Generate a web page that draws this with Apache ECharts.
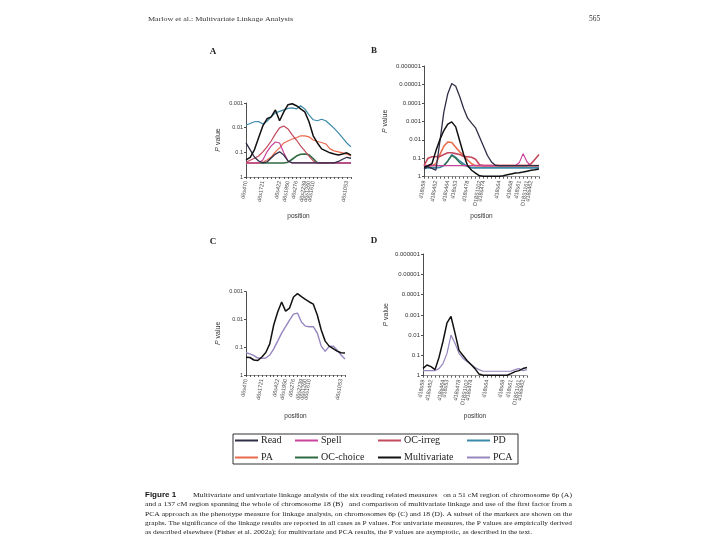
<!DOCTYPE html>
<html><head><meta charset="utf-8">
<script src="https://cdn.jsdelivr.net/npm/echarts@6/dist/echarts.min.js"></script>
<style>html,body{margin:0;padding:0;background:#fff}#c{width:720px;height:540px}</style>
</head><body><div id="c"></div>
<script>
// ---- values are -log10(P) ----
// Panel A: chromosome 6p, 51 cM, sampled every 2 cM
const A_pos = [0,2,4,6,8,10,12,14,16,18,20,22,24,26,28,30,32,34,36,38,40,42,44,46,48,50];
const A_markerPos = [0,8,16,20,24,28,30,32,48];
const A_markerNames = ['d6s470','d6s1721','d6s422','d6s1950','d6s276','d6s2239','d6s1260','d6s1610','d6s1053'];
const A_Read = [1.38,1.10,0.81,0.65,0.57,0.61,0.77,0.93,1.02,0.89,0.65,0.57,0.57,0.57,0.57,0.57,0.57,0.57,0.57,0.57,0.57,0.57,0.63,0.72,0.80,0.76];
const A_Spell = [0.57,0.57,0.57,0.57,0.69,1.02,1.26,1.42,1.38,0.98,0.65,0.57,0.57,0.57,0.57,0.57,0.57,0.57,0.57,0.57,0.57,0.57,0.57,0.57,0.57,0.57];
const A_OCirreg = [0.60,0.68,0.76,0.85,1.02,1.22,1.46,1.75,1.99,2.07,1.95,1.71,1.50,1.26,1.06,0.85,0.65,0.57,0.57,0.57,0.57,0.57,0.57,0.57,0.57,0.57];
const A_PD = [2.11,2.17,2.24,2.25,2.15,2.26,2.44,2.60,2.66,2.72,2.78,2.80,2.76,2.89,2.76,2.52,2.32,2.28,2.34,2.28,2.13,1.97,1.79,1.59,1.38,1.22];
const A_PA = [0.57,0.57,0.57,0.57,0.60,0.69,0.81,1.02,1.18,1.38,1.46,1.54,1.59,1.67,1.67,1.63,1.50,1.44,1.40,1.34,1.14,1.06,1.02,0.98,0.93,0.85];
const A_OCchoice = [0.57,0.57,0.57,0.57,0.57,0.57,0.57,0.57,0.57,0.57,0.60,0.72,0.85,0.92,0.93,0.90,0.75,0.57,0.57,0.57,0.57,0.57,0.57,0.57,0.57,0.57];
const A_Multi = [0.69,0.80,1.10,1.59,2.07,2.36,2.44,2.72,2.28,2.64,2.93,2.97,2.89,2.76,2.64,2.24,1.67,1.38,1.14,1.06,0.98,0.93,0.89,0.93,0.98,0.89];

// Panel B: chromosome 18, 137 cM, 30 samples
const B_pos = [0,5,9,14,19,24,28,33,38,43,47,52,57,61,66,71,76,80,85,90,94,99,104,109,113,118,123,127,132,137];
const B_markerPos = [0,14,28,38,52,66,71,90,104,113,123,127];
const CH18_markerNames = ['d18s59','d18s452','d18s464','d18s53','d18s478','D18S1102','d18s474','d18s64','d18s68','d18s61','D18S1161','d18s462'];
const B_Read = [0.40,0.55,0.45,0.35,1.90,3.50,4.50,5.05,4.90,4.35,3.70,3.17,2.90,2.65,2.15,1.65,1.15,0.80,0.62,0.60,0.60,0.60,0.60,0.60,0.60,0.60,0.60,0.60,0.60,0.60];
const B_Spell = [0.60,0.60,0.60,0.60,0.60,0.60,0.60,0.60,0.60,0.60,0.60,0.60,0.60,0.60,0.60,0.60,0.60,0.60,0.60,0.60,0.60,0.60,0.60,0.60,0.75,1.25,0.80,0.60,0.60,0.60];
const B_OCirreg = [0.60,1.00,1.08,1.08,1.10,1.20,1.30,1.30,1.25,1.20,1.10,1.08,1.05,0.95,0.65,0.60,0.60,0.60,0.60,0.60,0.60,0.60,0.60,0.60,0.60,0.60,0.60,0.70,0.95,1.20];
const B_PD = [0.48,0.48,0.48,0.48,0.50,0.60,0.85,1.20,1.05,0.85,0.70,0.55,0.48,0.48,0.48,0.48,0.48,0.48,0.48,0.48,0.48,0.48,0.48,0.48,0.48,0.48,0.48,0.48,0.48,0.48];
const B_PA = [0.60,0.60,0.60,0.70,1.20,1.65,1.88,1.85,1.60,1.35,1.15,0.90,0.70,0.60,0.60,0.60,0.60,0.60,0.60,0.60,0.60,0.60,0.60,0.60,0.60,0.60,0.60,0.60,0.60,0.60];
const B_OCchoice = [0.60,0.60,0.60,0.60,0.60,0.60,0.85,1.15,1.00,0.75,0.60,0.60,0.60,0.60,0.60,0.60,0.60,0.60,0.60,0.60,0.60,0.60,0.60,0.60,0.60,0.60,0.60,0.60,0.60,0.60];
const B_Multi = [0.50,0.60,0.70,1.40,2.00,2.50,2.85,2.97,2.70,1.95,1.20,0.60,0.35,0.20,0.05,0.02,0.02,0.02,0.02,0.02,0.05,0.10,0.15,0.20,0.22,0.25,0.30,0.35,0.38,0.42];

// Panel C: chromosome 6p, multivariate vs PCA
const C_Multi = [0.64,0.63,0.54,0.52,0.65,0.81,1.12,1.80,2.27,2.63,2.30,2.41,2.81,2.93,2.82,2.72,2.63,2.55,2.16,1.62,1.22,1.04,0.95,0.86,0.80,0.79];
const C_PCA = [0.80,0.76,0.70,0.61,0.60,0.61,0.72,0.94,1.22,1.51,1.74,1.98,2.19,2.23,1.91,1.76,1.74,1.74,1.51,1.04,0.85,1.03,1.04,0.90,0.72,0.58];

// Panel D: chromosome 18, multivariate vs PCA, 27 samples
const D_pos = [0,5,11,16,21,26,32,37,42,47,53,58,63,68,74,79,84,90,95,100,105,111,116,121,126,132,137];
const D_markerPos = [0,11,26,32,47,58,63,84,105,116,126,132];
const D_Multi = [0.36,0.53,0.45,0.30,0.90,1.70,2.60,2.92,2.10,1.25,1.00,0.75,0.55,0.35,0.08,0.02,0.02,0.02,0.02,0.02,0.02,0.02,0.10,0.20,0.25,0.35,0.40];
const D_PCA = [0.25,0.25,0.25,0.25,0.35,0.60,1.10,2.00,1.60,1.10,0.85,0.70,0.55,0.40,0.30,0.22,0.22,0.22,0.22,0.22,0.22,0.22,0.22,0.30,0.35,0.25,0.30];

const Y3_labels = ['1','0.1','0.01','0.001'];
const Y6_labels = ['1','0.1','0.01','0.001','0.0001','0.00001','0.000001'];

const COL = {
  'Read':'#2e2e46','Spell':'#c8439c','OC-irreg':'#c24a5c','PD':'#3b8aa9',
  'PA':'#ea6a4c','OC-choice':'#2f6b40','Multivariate':'#111111','PCA':'#9686bf'
};

const chart = echarts.init(document.getElementById('c'));

function xAx(gi, cats, mpos, names, gap){
  return {
    type:'category', gridIndex:gi, data:cats.map(String), boundaryGap:false,
    axisLine:{lineStyle:{color:'#555', width:0.6}},
    axisTick:{show:true, interval:0, length:2, lineStyle:{color:'#333', width:0.8}},
    axisLabel:{interval:0, rotate:80, fontSize:5.5, color:'#444', margin:4,
      fontFamily:'Liberation Sans',
      formatter:function(v){ const k = mpos.indexOf(Number(v)); return k>=0 ? names[k] : ''; }},
    name:'position', nameLocation:'middle', nameGap:gap,
    nameTextStyle:{fontSize:6.5, color:'#333', fontFamily:'Liberation Sans'}
  };
}
function yAx(gi, labels, gap, fs){
  return {
    type:'value', gridIndex:gi, min:0, max:labels.length-1, interval:1,
    axisLine:{show:true, lineStyle:{color:'#222', width:0.8}},
    axisTick:{show:true, length:2, lineStyle:{color:'#222', width:0.8}},
    splitLine:{show:false},
    axisLabel:{fontSize:fs, color:'#333', margin:3, fontFamily:'Liberation Sans',
      formatter:function(v){ return labels[Math.round(v)]; }},
    name:'{i|P} value', nameLocation:'middle', nameGap:gap,
    nameTextStyle:{fontSize:7, color:'#333', fontFamily:'Liberation Sans',
      rich:{i:{fontStyle:'italic', fontSize:7, color:'#333', fontFamily:'Liberation Sans'}}}
  };
}
function ser(name, gi, data, w){
  return {type:'line', name:name, xAxisIndex:gi, yAxisIndex:gi, data:data, symbol:'none',
    lineStyle:{color:COL[name], width:w||1.2}, itemStyle:{color:COL[name]},
    z: name==='Multivariate'?5:(name==='Read'?4:2)};
}

// caption text with width fitting
const mctx = document.createElement('canvas').getContext('2d');
function fit(text, font, width){ mctx.font = font; return width / mctx.measureText(text).width; }
const capFont = '7px "Liberation Serif"';
const capLines = [
  {t:'Multivariate and univariate linkage analysis of the six reading related measures   on a 51 cM region of chromosome 6p (A)', x:193, y:495, w:379},
  {t:'and a 137 cM region spanning the whole of chromosome 18 (B)   and comparison of multivariate linkage and use of the first factor from a', x:145, y:504.5, w:427},
  {t:'PCA approach as the phenotype measure for linkage analysis, on chromosomes 6p (C) and 18 (D). A subset of the markers are shown on the', x:145, y:514, w:427},
  {t:'graphs. The significance of the linkage results are reported in all cases as P values. For univariate measures, the P values are empirically derived', x:145, y:523.3, w:427},
  {t:'as described elsewhere (Fisher et al. 2002a); for multivariate and PCA results, the P values are asymptotic, as described in the text.', x:145, y:532.5, w:0}
];
const graphics = [];
let lastScale = 1;
capLines.forEach(function(l){
  const s = l.w ? fit(l.t, capFont, l.w) : lastScale;
  lastScale = s;
  graphics.push({type:'text', x:l.x, y:l.y, scaleX: s,
    style:{text:l.t, font:capFont, fill:'#222', textVerticalAlign:'middle'}});
});
graphics.push({type:'text', x:145, y:495, style:{text:'Figure 1', font:'bold 8px "Liberation Sans"', fill:'#111', textVerticalAlign:'middle'}});
graphics.push({type:'text', x:148, y:19, scaleX: fit('Marlow et al.: Multivariate Linkage Analysis','7px "Liberation Serif"',145),
  style:{text:'Marlow et al.: Multivariate Linkage Analysis', font:'7px "Liberation Serif"', fill:'#333', textVerticalAlign:'middle'}});
graphics.push({type:'text', x:589, y:19, style:{text:'565', font:'7.5px "Liberation Serif"', fill:'#333', textVerticalAlign:'middle'}});
[['A',213,52],['B',374,51],['C',213,242],['D',374,241]].forEach(function(p){
  graphics.push({type:'text', x:p[1], y:p[2], style:{text:p[0], font:'bold 9px "Liberation Serif"', fill:'#222', textAlign:'center', textVerticalAlign:'middle'}});
});
graphics.push({type:'rect', shape:{x:233, y:434, width:285, height:30}, style:{fill:'none', stroke:'#333', lineWidth:1}});

function leg(left, names){
  return {show:true, orient:'vertical', left:left, top:435.5, itemGap:7, itemWidth:23, itemHeight:2,
    icon:'rect', data:names, selectedMode:false, padding:[0,0,0,0],
    textStyle:{fontSize:10, color:'#222', fontFamily:'Liberation Serif', padding:[0,0,0,-2]}};
}

chart.setOption({
  animation:false,
  backgroundColor:'#fff',
  grid:[
    {left:246, top:103, width:105, height:74},
    {left:424, top:66, width:115, height:110.7},
    {left:246, top:291.7, width:99, height:83.3},
    {left:423, top:254, width:104, height:121.7}
  ],
  xAxis:[
    xAx(0, A_pos, A_markerPos, A_markerNames, 36),
    xAx(1, B_pos, B_markerPos, CH18_markerNames, 36),
    xAx(2, A_pos, A_markerPos, A_markerNames, 38),
    xAx(3, D_pos, D_markerPos, CH18_markerNames, 37)
  ],
  yAxis:[
    yAx(0, Y3_labels, 24, 5.5),
    yAx(1, Y6_labels, 35, 6),
    yAx(2, Y3_labels, 24, 5.5),
    yAx(3, Y6_labels, 33, 6)
  ],
  legend:[
    leg(235, ['Read','PA']),
    leg(295, ['Spell','OC-choice']),
    leg(378, ['OC-irreg','Multivariate']),
    leg(467, ['PD','PCA'])
  ],
  graphic:graphics,
  series:[
    ser('OC-choice',0,A_OCchoice,1.6), ser('PD',0,A_PD), ser('PA',0,A_PA), ser('OC-irreg',0,A_OCirreg),
    ser('Spell',0,A_Spell), ser('Read',0,A_Read,1.3), ser('Multivariate',0,A_Multi,1.5),
    ser('PD',1,B_PD,1.6), ser('OC-choice',1,B_OCchoice), ser('PA',1,B_PA,1.6), ser('OC-irreg',1,B_OCirreg,1.6),
    ser('Spell',1,B_Spell), ser('Read',1,B_Read,1.3), ser('Multivariate',1,B_Multi,1.5),
    ser('PCA',2,C_PCA,1.4), ser('Multivariate',2,C_Multi,1.5),
    ser('PCA',3,D_PCA,1.2), ser('Multivariate',3,D_Multi,1.5)
  ]
});
</script></body></html>
